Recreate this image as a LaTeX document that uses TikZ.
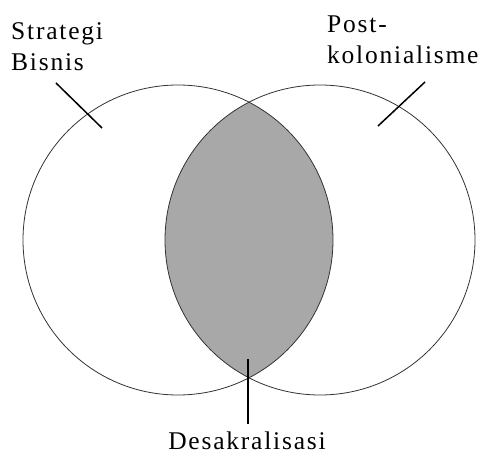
\documentclass[tikz,border=0pt]{standalone}
\usepackage{fontspec}
\setmainfont{Liberation Serif}[LetterSpace=7]
\usetikzlibrary{positioning,calc}

\begin{document}
\begin{tikzpicture}[x=1pt, y=-1pt,
  set/.style={draw=black!80, line width=0.8pt, circle, minimum size=310pt, inner sep=0pt},
  tick/.style={draw=black, line width=1.5pt},
  lbl/.style={font=\fontsize{25.5}{31}\selectfont, inner sep=0pt, align=left}]

  \useasboundingbox (0,0) rectangle (482,454);

  % lens between the two sets
  \begin{scope}
    \clip (178,240) circle (155);
    \fill[black!34] (320,240) circle (155);
  \end{scope}

  \node[set] (bisnis) at (178,240) {};
  \node[set] (kolonial) at (320,240) {};

  \node[lbl, anchor=north west] (lbisnis) at (11,22.5) {Strategi\\Bisnis};
  \node[lbl, anchor=north west] (lkolonial) at (327,15.5) {Post-\\kolonialisme};
  \node[lbl, anchor=base] (ldesak) at (247,449) {Desakralisasi};

  \coordinate (t1a) at (56,83);   \coordinate (t1b) at (102,128);
  \coordinate (t2a) at (425,82);  \coordinate (t2b) at (378,126);
  \coordinate (t3a) at (248,359); \coordinate (t3b) at (248,424);

  \draw[tick] (t1a) -- (t1b);
  \draw[tick] (t2a) -- (t2b);
  \draw[tick] (t3a) -- (t3b);

\end{tikzpicture}
\end{document}
